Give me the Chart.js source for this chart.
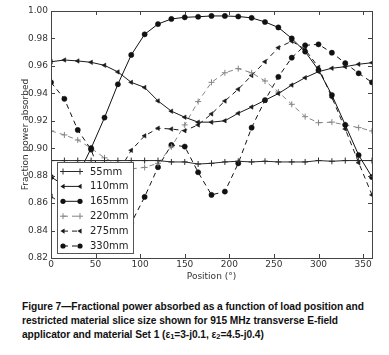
<!DOCTYPE html>
<html lang="en">
<head>
  <meta charset="UTF-8">
  <title>Fractional power absorbed vs load position</title>
  <script src="https://cdn.jsdelivr.net/npm/chart.js"></script>
  <style>
    body { margin: 0; background: #fff; }
    #wrap { position: relative; width: 389px; height: 290px; }
    #caption {
      margin: 10px 0 0 22px;
      font-family: "Liberation Sans", Arial, sans-serif;
      font-weight: bold;
      font-size: 10.2px;
      line-height: 14px;
      color: #111;
      white-space: nowrap;
      letter-spacing: -0.05px;
    }
    #caption sub { font-size: 7.5px; vertical-align: -1px; line-height: 0; }
  </style>
</head>
<body>
  <div id="wrap"><canvas id="chart" width="389" height="290"></canvas></div>
  <div id="caption">
    Figure 7—Fractional power absorbed as a function of load position and<br>
    restricted material slice size shown for 915 MHz transverse E-field<br>
    applicator and material Set 1 (ε<sub>1</sub>=3-j0.1, ε<sub>2</sub>=4.5-j0.4)
  </div>

  <script>
    // load position in degrees, one point every 15°
    const positions = [0, 15, 30, 45, 60, 75, 90, 105, 120, 135, 150, 165, 180,
                       195, 210, 225, 240, 255, 270, 285, 300, 315, 330, 345, 360];
    const xTicks = [0, 50, 100, 150, 200, 250, 300, 350];
    const yTicks = [0.82, 0.84, 0.86, 0.88, 0.90, 0.92, 0.94, 0.96, 0.98, 1.00];
    const seriesNames = ['55mm', '110mm', '165mm', '220mm', '275mm', '330mm'];

    // values
    const s55  = [0.891, 0.891, 0.891, 0.891, 0.891, 0.891, 0.891, 0.891, 0.891, 0.890, 0.890, 0.8885, 0.889,
                  0.890, 0.8905, 0.890, 0.8905, 0.890, 0.890, 0.890, 0.891, 0.8905, 0.891, 0.891, 0.891];
    const s110 = [0.963, 0.9643, 0.9636, 0.9626, 0.9604, 0.9556, 0.948, 0.9443, 0.9345, 0.927, 0.9226, 0.919, 0.919,
                  0.920, 0.9255, 0.930, 0.935, 0.9398, 0.946, 0.9514, 0.9558, 0.9583, 0.9594, 0.9612, 0.9623];
    const s165 = [0.879, 0.873, 0.880, 0.900, 0.9223, 0.9466, 0.968, 0.983, 0.9905, 0.9942, 0.9954, 0.9958, 0.9964,
                  0.9964, 0.996, 0.995, 0.992, 0.988, 0.980, 0.9704, 0.957, 0.9388, 0.917, 0.895, 0.879];
    const s220 = [0.9126, 0.9097, 0.906, 0.900, 0.893, 0.888, 0.885, 0.886, 0.889, 0.901, 0.917, 0.934, 0.948,
                  0.955, 0.958, 0.955, 0.949, 0.941, 0.932, 0.923, 0.9186, 0.919, 0.917, 0.915, 0.9126];
    const s275 = [0.865, 0.858, 0.856, 0.860, 0.869, 0.882, 0.8985, 0.909, 0.9146, 0.914, 0.9128, 0.917, 0.925,
                  0.9344, 0.943, 0.953, 0.963, 0.9733, 0.978, 0.972, 0.959, 0.937, 0.914, 0.8895, 0.866];
    const s330 = [0.948, 0.936, 0.9133, 0.899, 0.872, 0.851, 0.8455, 0.8645, 0.8862, 0.9024, 0.9012, 0.8825, 0.866,
                  0.8684, 0.889, 0.915, 0.935, 0.952, 0.966, 0.975, 0.9757, 0.9696, 0.962, 0.9546, 0.948];

    const toPoints = vals => positions.map((x, i) => ({ x: x, y: vals[i] }));

    function makeSet(label, vals, color, dash, style, radius) {
      return {
        label: label,
        data: toPoints(vals),
        borderColor: color,
        borderWidth: 1,
        borderDash: dash,
        pointStyle: style,
        pointRotation: style === 'triangle' ? -90 : 0,
        pointRadius: radius,
        pointBackgroundColor: color,
        pointBorderColor: color,
        pointBorderWidth: style === 'cross' ? 1 : 0.5,
        tension: 0
      };
    }

    const datasets = [
      makeSet(seriesNames[0], s55,  '#2a2a2a', [],     'cross',    3),
      makeSet(seriesNames[1], s110, '#1a1a1a', [],     'triangle', 2.6),
      makeSet(seriesNames[2], s165, '#111111', [],     'circle',   2.6),
      makeSet(seriesNames[3], s220, '#858585', [5, 4], 'cross',    3),
      makeSet(seriesNames[4], s275, '#1a1a1a', [5, 4], 'triangle', 2.6),
      makeSet(seriesNames[5], s330, '#111111', [5, 4], 'circle',   2.6)
    ];

    // matplotlib style frame with inward ticks on all four sides
    const frame = {
      id: 'frame',
      afterDatasetsDraw(chart) {
        const { ctx, chartArea: a, scales } = chart;
        ctx.save();
        ctx.strokeStyle = '#444';
        ctx.lineWidth = 1;
        ctx.setLineDash([]);
        ctx.strokeRect(Math.round(a.left) + 0.5, Math.round(a.top) + 0.5,
                       Math.round(a.right - a.left), Math.round(a.bottom - a.top));
        ctx.beginPath();
        xTicks.forEach(v => {
          const px = Math.round(scales.x.getPixelForValue(v)) + 0.5;
          ctx.moveTo(px, a.bottom); ctx.lineTo(px, a.bottom - 4);
          ctx.moveTo(px, a.top); ctx.lineTo(px, a.top + 4);
        });
        yTicks.forEach(v => {
          const py = Math.round(scales.y.getPixelForValue(v)) + 0.5;
          ctx.moveTo(a.left, py); ctx.lineTo(a.left + 4, py);
          ctx.moveTo(a.right, py); ctx.lineTo(a.right - 4, py);
        });
        ctx.stroke();
        ctx.restore();
      }
    };

    function marker(ctx, style, x, y, r) {
      ctx.beginPath();
      if (style === 'circle') {
        ctx.arc(x, y, r, 0, 2 * Math.PI);
        ctx.fill();
      } else if (style === 'triangle') {
        ctx.moveTo(x - r, y);
        ctx.lineTo(x + r * 0.6, y - r);
        ctx.lineTo(x + r * 0.6, y + r);
        ctx.closePath();
        ctx.fill();
      } else {
        ctx.moveTo(x - r, y); ctx.lineTo(x + r, y);
        ctx.moveTo(x, y - r); ctx.lineTo(x, y + r);
        ctx.stroke();
      }
    }

    // legend box drawn inside the lower left of the plot
    const insideLegend = {
      id: 'insideLegend',
      afterDraw(chart) {
        const { ctx, chartArea: a } = chart;
        const x0 = Math.round(a.left) + 6, y0 = Math.round(a.bottom) - 96;
        const w = 76, h = 91;
        ctx.save();
        ctx.fillStyle = '#fff';
        ctx.fillRect(x0, y0, w, h);
        ctx.strokeStyle = '#555';
        ctx.lineWidth = 1;
        ctx.strokeRect(x0 + 0.5, y0 + 0.5, w, h);
        chart.data.datasets.forEach((ds, i) => {
          const y = y0 + 9.5 + i * 14.9;
          ctx.strokeStyle = ds.borderColor;
          ctx.fillStyle = ds.borderColor;
          ctx.lineWidth = 1;
          ctx.setLineDash(ds.borderDash);
          ctx.beginPath();
          ctx.moveTo(x0 + 6, y); ctx.lineTo(x0 + 23, y);
          ctx.stroke();
          ctx.setLineDash([]);
          marker(ctx, ds.pointStyle, x0 + 6, y, ds.pointRadius);
          marker(ctx, ds.pointStyle, x0 + 23, y, ds.pointRadius);
          ctx.fillStyle = '#222';
          ctx.font = '10px "DejaVu Sans"';
          ctx.textBaseline = 'middle';
          ctx.fillText(ds.label, x0 + 33, y + 0.5);
        });
        ctx.restore();
      }
    };

    const tickFont = { family: 'DejaVu Sans', size: 9 };

    new Chart(document.getElementById('chart'), {
      type: 'line',
      data: { datasets: datasets },
      plugins: [frame, insideLegend],
      options: {
        responsive: false,
        animation: false,
        devicePixelRatio: 1,
        layout: { padding: { top: 11, right: 17, bottom: 8, left: 0 } },
        plugins: { legend: { display: false }, tooltip: { enabled: false } },
        scales: {
          x: {
            type: 'linear',
            min: 0,
            max: 360,
            grid: { display: false, drawTicks: false },
            border: { display: false },
            afterBuildTicks: scale => { scale.ticks = xTicks.map(v => ({ value: v })); },
            afterFit: scale => { scale.height = 24; },
            ticks: { font: tickFont, color: '#333', padding: 1, maxRotation: 0 },
            title: { display: true, text: 'Position (°)', font: tickFont, color: '#333', padding: { top: 0, bottom: 0 } }
          },
          y: {
            type: 'linear',
            min: 0.82,
            max: 1.00,
            grid: { display: false, drawTicks: false },
            border: { display: false },
            afterBuildTicks: scale => { scale.ticks = yTicks.map(v => ({ value: v })); },
            afterFit: scale => { scale.width = 51; },
            ticks: { font: tickFont, color: '#333', padding: 3, callback: v => Number(v).toFixed(2) },
            title: { display: true, text: 'Fraction power absorbed', font: tickFont, color: '#333', padding: { top: 20, bottom: 0 } }
          }
        }
      }
    });
  </script>
</body>
</html>
